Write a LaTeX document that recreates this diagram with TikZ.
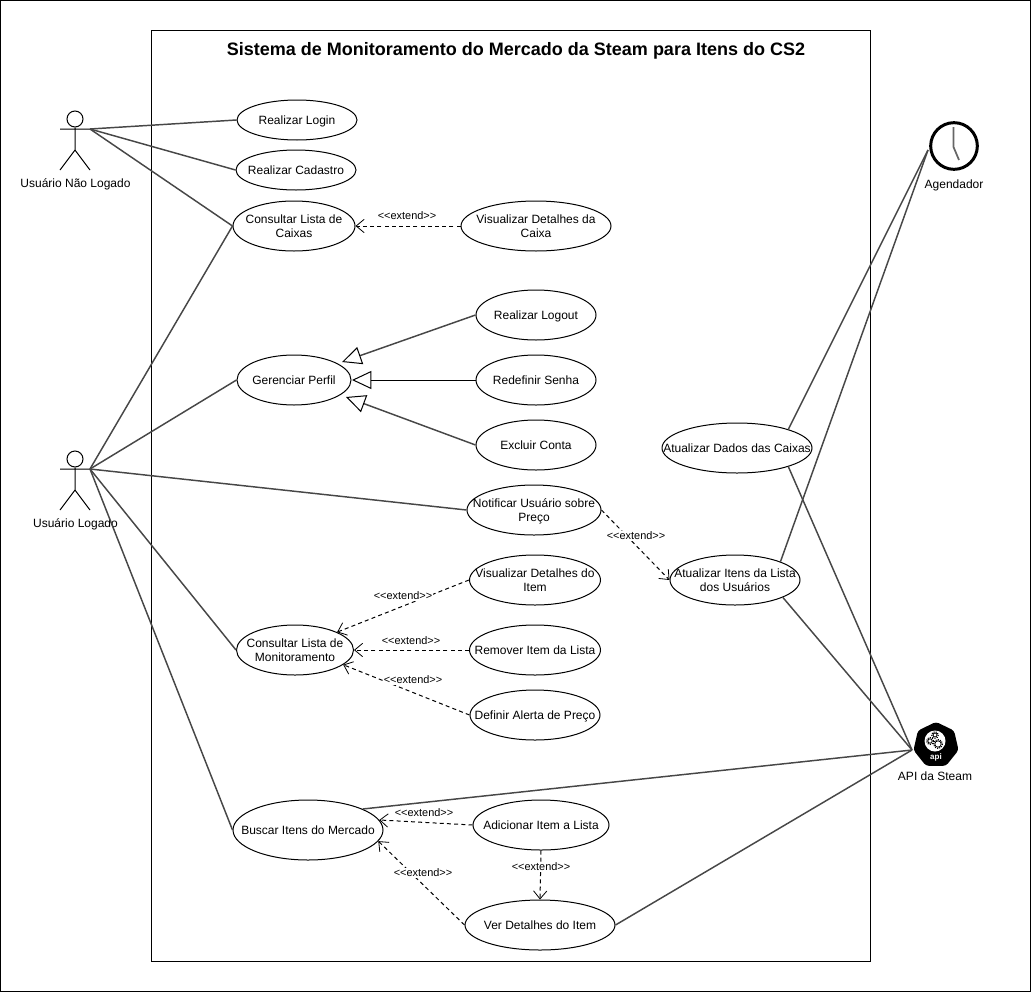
\documentclass[tikz,border=0pt]{standalone}
\usepackage{fontspec}
\setmainfont{Liberation Sans}
\usetikzlibrary{shapes.geometric,arrows.meta}
\tikzset{
  x=0.75pt,y=-0.75pt,
  uc/.style={draw=black,ellipse,fill=white,line width=0.75pt,inner sep=0pt},
  uctext/.style={inner sep=0pt,align=center,font=\fontsize{9}{10.5}\selectfont,yshift=-0.9pt},
  assoc/.style={draw=black!72,line width=1.1pt},
  gen/.style={draw=black!72,line width=1.1pt,-{Triangle[open,length=14.5pt,width=13.5pt,line width=0.75pt,color=black]}},
  genflat/.style={draw=black,line width=0.75pt,-{Triangle[open,length=14.5pt,width=13.5pt,line width=0.75pt,color=black]}},
  ext/.style={draw=black,line width=0.75pt,dash pattern=on 3pt off 2.4pt,-{Straight Barb[length=6pt,width=10pt,line width=0.6pt]}},
  extlabel/.style={fill=white,inner sep=0.6pt,font=\fontsize{8.2}{9}\selectfont},
  lbl/.style={font=\fontsize{9}{10.5}\selectfont,inner sep=0pt,yshift=-1.3pt},
  limb/.style={draw=black,line width=0.75pt},
}
\newcommand{\usecase}[6]{%
  \node[uc,minimum width=#2*0.75pt,minimum height=#3*0.75pt] (#1) at (#4,#5) {};
  \node[uctext] (#1text) at (#1.center) {\strut #6\strut};
}
\newcommand{\stick}[3]{%
  \node[draw=black,circle,line width=0.75pt,minimum size=12pt,inner sep=0pt] (#1head) at (#2,#3-10) {};
  \coordinate (#1hand) at (#2+15,#3);
  \coordinate (#1handl) at (#2-15,#3);
  \coordinate (#1hip) at (#2,#3+21);
  \coordinate (#1footl) at (#2-15,#3+41);
  \coordinate (#1footr) at (#2+15,#3+41);
  \draw[limb] (#1head.south) -- (#1hip) (#1handl) -- (#1hand) (#1footl) -- (#1hip) -- (#1footr);
}
\newcommand{\extxt}{<{}<extend>{}>}
\begin{document}
\begin{tikzpicture}
\useasboundingbox (0,0) rectangle (1031,992);
\node[draw=black,line width=0.75pt,minimum width=1030*0.75pt,minimum height=991*0.75pt,inner sep=0pt] (page) at (515.5,496) {};
\node[draw=black,line width=0.75pt,minimum width=719*0.75pt,minimum height=931*0.75pt,inner sep=0pt] (system) at (510.5,495.5) {};
\node[font=\fontsize{13.5}{15}\selectfont\bfseries,inner sep=0pt] (title) at (516,51) {Sistema de Monitoramento do Mercado da Steam para Itens do CS2};

\stick{anon}{75}{129}
\stick{user}{75}{469}
\node[lbl] (anonlabel) at (75.5,183) {Usuário Não Logado};
\node[lbl] (userlabel) at (75.5,523) {Usuário Logado};

\usecase{login}{120}{40}{297}{120}{Realizar Login}
\usecase{cadastro}{120}{40}{296}{170}{Realizar Cadastro}
\usecase{caixas}{122}{50}{294}{226}{Consultar Lista de\\Caixas}
\usecase{detcaixa}{150}{50}{536}{226}{Visualizar Detalhes da\\Caixa}
\usecase{logout}{120}{50}{536}{315}{Realizar Logout}
\usecase{perfil}{114}{50}{294}{380}{Gerenciar Perfil}
\usecase{senha}{120}{50}{536}{380}{Redefinir Senha}
\usecase{excluir}{120}{50}{536}{445}{Excluir Conta}
\usecase{notificar}{134}{50}{534}{510}{Notificar Usuário sobre\\Preço}
\usecase{dados}{150}{50}{737}{448}{Atualizar Dados das Caixas}
\usecase{itens}{130}{50}{735}{580}{Atualizar Itens da Lista\\dos Usuários}
\usecase{detitem}{131}{50}{535}{580}{Visualizar Detalhes do\\Item}
\usecase{monit}{117}{50}{295}{650}{Consultar Lista de\\Monitoramento}
\usecase{remover}{131}{50}{535}{650}{Remover Item da Lista}
\usecase{alerta}{130}{50}{535}{715}{Definir Alerta de Preço}
\usecase{buscar}{150}{60}{308}{830}{Buscar Itens do Mercado}
\usecase{adicionar}{136}{50}{541}{825}{Adicionar Item a Lista}
\usecase{ver}{150}{50}{540}{925}{Ver Detalhes do Item}

% clock
\node[draw=black,circle,line width=2.25pt,minimum size=35pt,inner sep=0pt] (clock) at (954,146) {};
\coordinate (clockc) at (953.5,147);
\coordinate (clockh1) at (953.5,127);
\coordinate (clockh2) at (959,160);
\draw[draw=black!60,line width=1.3pt] (clockh1) -- (clockc) -- (clockh2);
\coordinate (clockport) at (928,150);
\node[lbl] (clocklabel) at (954,184) {Agendador};

% api
\node[regular polygon,regular polygon sides=7,fill=black,draw=black,line width=1.5pt,rounded corners=2pt,minimum size=33pt,inner sep=0pt] (api) at (936,745) {};
\coordinate (apiport) at (912,750);
\node[font=\fontsize{6}{6}\selectfont\bfseries,text=white,inner sep=0pt] (apitext) at (936,757) {api};
\fill[white] (935,741) circle[radius=10.5];
\foreach \cx/\cy/\r in {938/744/3.2,930/741/2.2,935/735/2}{
  \draw[black,line width=0.6pt] (\cx,\cy) circle[radius=\r];
  \draw[black,line width=0.8pt,dash pattern=on 0.8pt off 0.9pt] (\cx,\cy) circle[radius=\r+1.3];
}
\node[lbl] (apilabel) at (935,774) {API da Steam};

% associations
\draw[assoc] (anonhand) -- (login.west);
\draw[assoc] (anonhand) -- (cadastro.west);
\draw[assoc] (anonhand) -- (caixas.west);
\draw[assoc] (userhand) -- (caixas.west);
\draw[assoc] (userhand) -- (perfil.west);
\draw[assoc] (userhand) -- (notificar.west);
\draw[assoc] (userhand) -- (monit.west);
\draw[assoc] (userhand) -- (buscar.west);
\draw[assoc] (dados.20) -- (clockport);
\draw[assoc] (itens.22) -- (clockport);
\draw[assoc] (dados.-20) -- (apiport);
\draw[assoc] (itens.-20) -- (apiport);
\draw[assoc] (buscar.21) -- (apiport);
\draw[assoc] (ver.east) -- (apiport);

% generalisations
\coordinate (gentop) at (342,362);
\coordinate (genmid) at (352,380);
\coordinate (genbot) at (346,397);
\draw[gen] (logout.west) -- (gentop);
\draw[genflat] (senha.west) -- (genmid);
\draw[gen] (excluir.west) -- (genbot);

% extends
\draw[ext] (detcaixa.west) -- (caixas.east);
\draw[ext] (notificar.east) -- (itens.west);
\draw[ext] (detitem.west) -- (monit.23);
\draw[ext] (remover.west) -- (monit.east);
\draw[ext] (alerta.west) -- (monit.-17);
\draw[ext] (adicionar.west) -- (buscar.8);
\draw[ext] (adicionar.south) -- (ver.north);
\draw[ext] (ver.west) -- (buscar.-9);

\node[extlabel] (l1) at (407,216) {\extxt};
\node[extlabel] (l2) at (636,536) {\extxt};
\node[extlabel] (l3) at (403,596) {\extxt};
\node[extlabel] (l4) at (411,641) {\extxt};
\node[extlabel] (l5) at (413,680) {\extxt};
\node[extlabel] (l6) at (424,813) {\extxt};
\node[extlabel] (l7) at (541,867) {\extxt};
\node[extlabel] (l8) at (423,873) {\extxt};
\end{tikzpicture}
\end{document}
